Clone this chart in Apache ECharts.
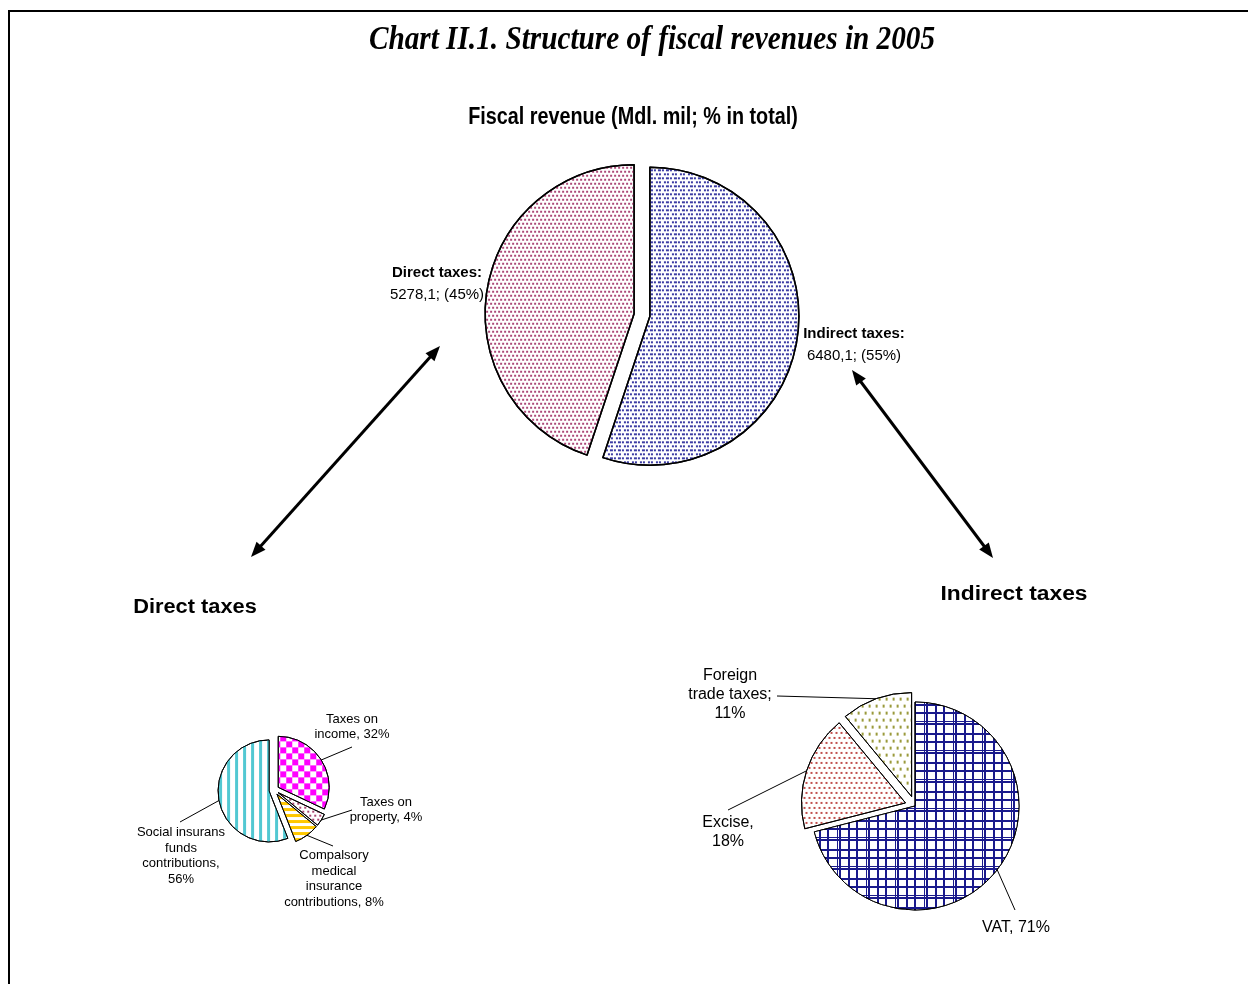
<!DOCTYPE html>
<html style="height: 100%">
<head>
    <meta charset="utf-8">
</head>
<body style="height: 100%; margin: 0; background: #fff">
<div id="container" style="width: 1248px; height: 984px"></div>
<script type="text/javascript" src="https://cdn.jsdelivr.net/npm/echarts@6/dist/echarts.min.js"></script>
<script type="text/javascript">
    // fiscal revenue, 2005 (Mdl. mil)
    var mainNames = ['Indirect taxes', 'Direct taxes'];
    var mainValues = [6480.1, 5278.1];

    // structure of direct taxes, % in total
    var directNames = ['Taxes on\nincome', 'Taxes on\nproperty', 'Compalsory\nmedical\ninsurance\ncontributions', 'Social insurans\nfunds\ncontributions'];
    var directShares = [32, 4, 8, 56];
    var directSep = [', ', ', ', ', ', ',\n'];

    // structure of indirect taxes, % in total
    var indirectNames = ['VAT', 'Excise', 'Foreign\ntrade taxes'];
    var indirectShares = [71, 18, 11];
    var indirectSep = [', ', ',\n', ';\n'];
    var indirectExploded = [false, true, true];

    var FONT = "'Liberation Sans', Arial, sans-serif";

    // where the labels sit (label centre, end of leader line)
    var mainLabelAt = [[854, 345], [437, 284]];
    var directLabelAt = [[352, 727], [386, 810], [334, 879], [181, 856]];
    var directLineEnd = [[352, 747], [352, 810], [333, 846], [180, 822]];
    var indirectLabelAt = [[1016, 928], [728, 832], [730, 695]];
    var indirectLineEnd = [[1015, 910], [728, 810], [777, 696]];

    function dec(color, dx, dy, size, sym) {
        return {symbol: sym || 'rect', symbolSize: size || 1, symbolKeepAspect: false, color: color, dashArrayX: dx, dashArrayY: dy};
    }

    var mainDecals = [
        dec('#3c3ca4', [[2, 1, 2, 3], [0, 2, 3, 1, 2, 0]], [2, 2]),
        dec('#ac4878', [[2, 2], [0, 2, 2, 0]], [2, 2])
    ];
    var directDecals = [
        dec('#ff00ff', [[6, 6], [0, 6, 6, 0]], [6, 0]),
        dec('#a8436f', [[2, 3], [0, 3, 2, 0]], [2, 2]),
        dec('#ffc800', [1, 0], [3, 3]),
        dec('#52c8d2', [3, 5], [1, 0])
    ];
    var indirectDecals = [
        dec('#ffffff', [7, 2, 6, 2, 8, 1, 1, 2], [8, 2, 6, 2, 7, 1, 1, 2]),
        dec('#c0504d', [[2, 3], [0, 3, 2, 0]], [2, 3]),
        dec('#9a9a3c', [[2, 5], [0, 4, 2, 1]], [3, 4])
    ];
    var indirectFill = ['#1a1a8c', '#fff', '#fff'];

    function fmt(v) {
        return v.toFixed(1).replace('.', ',');
    }

    var mainTotal = mainValues[0] + mainValues[1];
    var mainData = mainNames.map(function (n, i) {
        return {
            name: n, value: mainValues[i], selected: true,
            itemStyle: {color: '#fff', decal: mainDecals[i]}
        };
    });
    var directData = directNames.map(function (n, i) {
        return {
            name: n, value: directShares[i], selected: true, sep: directSep[i],
            itemStyle: {color: '#fff', decal: directDecals[i]}
        };
    });
    var indirectData = indirectNames.map(function (n, i) {
        return {
            name: n, value: indirectShares[i], selected: indirectExploded[i], sep: indirectSep[i],
            itemStyle: {color: indirectFill[i], decal: indirectDecals[i]}
        };
    });

    // offset of an exploded slice (pie starts at 12 o'clock, clockwise)
    function explodeShift(values, idx, dist) {
        var total = 0, before = 0;
        values.forEach(function (v, i) {
            total += v;
            if (i < idx) before += v;
        });
        var t = 2 * Math.PI * (before + values[idx] / 2) / total;
        return [Math.sin(t) * dist, -Math.cos(t) * dist];
    }

    // move each label so that its centre lands on labelAt, re-aim the leader line
    function placeLabels(values, selected, dist, labelAt, lineEnd) {
        return function (params) {
            var i = params.dataIndex;
            var sh = selected[i] ? explodeShift(values, i, dist) : [0, 0];
            var p = labelAt[i];
            var r = params.labelRect;
            var ax = params.align === 'left' ? r.x : (params.align === 'right' ? r.x + r.width : r.x + r.width / 2);
            var res = {
                align: 'center',
                dx: p[0] - ax - sh[0],
                dy: p[1] - (r.y + r.height / 2) - sh[1]
            };
            if (lineEnd && params.labelLinePoints) {
                var s = params.labelLinePoints[0];
                var e = [lineEnd[i][0] - sh[0], lineEnd[i][1] - sh[1]];
                res.labelLinePoints = [s, e, e];
            }
            return res;
        };
    }

    // double headed arrow as graphic elements
    function arrow(x1, y1, x2, y2) {
        var a = Math.atan2(y2 - y1, x2 - x1);
        var L = 15, W = 6;
        function head(x, y, ang) {
            var bx = x - L * Math.cos(ang), by = y - L * Math.sin(ang);
            return {
                type: 'polygon',
                shape: {points: [[x, y], [bx + W * Math.sin(ang), by - W * Math.cos(ang)], [bx - W * Math.sin(ang), by + W * Math.cos(ang)]]},
                style: {fill: '#000'}
            };
        }
        return [
            {type: 'line', shape: {x1: x1 + 10 * Math.cos(a), y1: y1 + 10 * Math.sin(a), x2: x2 - 10 * Math.cos(a), y2: y2 - 10 * Math.sin(a)}, style: {stroke: '#000', lineWidth: 3}},
            head(x2, y2, a),
            head(x1, y1, a + Math.PI)
        ];
    }

    var dom = document.getElementById('container');
    var myChart = echarts.init(dom, null, {renderer: 'canvas'});

    var option = {
        backgroundColor: '#fff',
        animation: false,
        graphic: [
            {type: 'polyline', shape: {points: [[9, 984], [9, 11], [1248, 11]]}, style: {stroke: '#000', lineWidth: 2, fill: null}},
            {
                type: 'text', x: 652, y: 40, scaleX: 0.86,
                style: {
                    text: 'Chart II.1. Structure of fiscal revenues in 2005',
                    font: 'italic bold 34px "Liberation Serif", "Times New Roman", serif',
                    fill: '#000', textAlign: 'center', textVerticalAlign: 'middle'
                }
            },
            {
                type: 'text', x: 633, y: 118, scaleX: 0.86,
                style: {
                    text: 'Fiscal revenue (Mdl. mil; % in total)',
                    font: 'bold 23px ' + FONT,
                    fill: '#000', textAlign: 'center', textVerticalAlign: 'middle'
                }
            },
            {
                type: 'text', x: 195, y: 607, scaleX: 1.09,
                style: {text: 'Direct taxes', font: 'bold 20px ' + FONT, fill: '#000', textAlign: 'center', textVerticalAlign: 'middle'}
            },
            {
                type: 'text', x: 1014, y: 594, scaleX: 1.14,
                style: {text: 'Indirect taxes', font: 'bold 20px ' + FONT, fill: '#000', textAlign: 'center', textVerticalAlign: 'middle'}
            }
        ].concat(arrow(440, 346, 251, 557), arrow(852, 370, 993, 558)),
        series: [
            {
                name: 'Fiscal revenue',
                type: 'pie',
                center: [642, 315],
                radius: 149,
                startAngle: 90,
                clockwise: true,
                selectedMode: 'multiple',
                selectedOffset: 8,
                emphasis: {disabled: true},
                itemStyle: {borderColor: '#000', borderWidth: 1.5},
                label: {
                    position: 'outside',
                    color: '#000',
                    fontFamily: FONT,
                    fontSize: 15,
                    lineHeight: 22,
                    formatter: function (p) {
                        return '{b|' + p.name + ':}\n' + fmt(p.value) + '; (' + Math.round(p.value / mainTotal * 100) + '%)';
                    },
                    rich: {b: {fontWeight: 'bold', fontSize: 15, fontFamily: FONT, color: '#000'}}
                },
                labelLine: {show: false},
                labelLayout: placeLabels(mainValues, [true, true], 8, mainLabelAt),
                data: mainData
            },
            {
                name: 'Direct taxes',
                type: 'pie',
                center: [274, 790],
                radius: 51,
                startAngle: 90,
                clockwise: true,
                selectedMode: 'multiple',
                selectedOffset: 5,
                emphasis: {disabled: true},
                itemStyle: {borderColor: '#000', borderWidth: 1},
                label: {
                    position: 'outside',
                    color: '#000',
                    fontFamily: FONT,
                    fontSize: 13,
                    lineHeight: 15.5,
                    formatter: function (p) {
                        return p.name + p.data.sep + p.value + '%';
                    }
                },
                labelLine: {show: true, length: 6, length2: 4, lineStyle: {color: '#000', width: 1}},
                labelLayout: placeLabels(directShares, [true, true, true, true], 5, directLabelAt, directLineEnd),
                data: directData
            },
            {
                name: 'Indirect taxes',
                type: 'pie',
                center: [915, 806],
                radius: 104,
                startAngle: 90,
                clockwise: true,
                selectedMode: 'multiple',
                selectedOffset: 10,
                emphasis: {disabled: true},
                itemStyle: {borderColor: '#000', borderWidth: 1},
                label: {
                    position: 'outside',
                    color: '#000',
                    fontFamily: FONT,
                    fontSize: 16,
                    lineHeight: 19,
                    formatter: function (p) {
                        return p.name + p.data.sep + p.value + '%';
                    }
                },
                labelLine: {show: true, length: 6, length2: 4, lineStyle: {color: '#000', width: 1}},
                labelLayout: placeLabels(indirectShares, indirectExploded, 10, indirectLabelAt, indirectLineEnd),
                data: indirectData
            }
        ]
    };
    myChart.setOption(option);
</script>
</body>
</html>
